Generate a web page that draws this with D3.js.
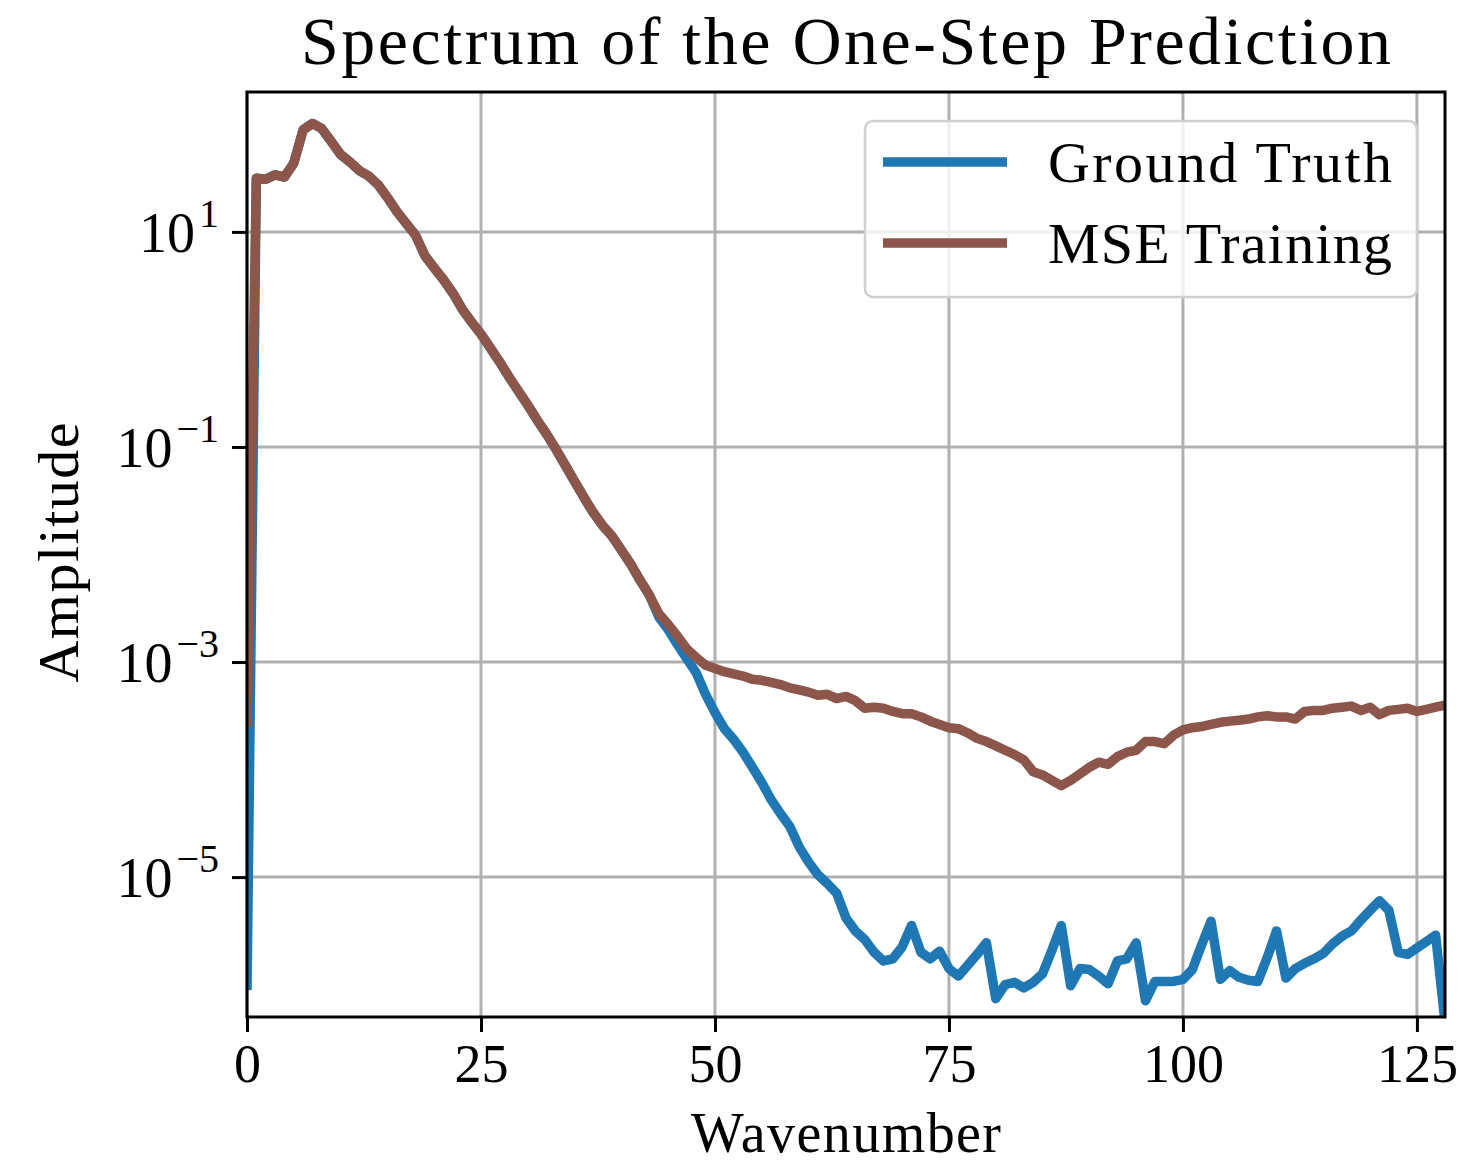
<!DOCTYPE html>
<html>
<head>
<meta charset="utf-8">
<script src="https://cdn.jsdelivr.net/npm/d3@7"></script>
<style>
  body { margin: 0; background: #fff; }
  text { font-family: "Liberation Serif", "DejaVu Serif", serif; fill: #000; }
</style>
</head>
<body>
<div id="chart"></div>
<script>
// wavenumber 0..128 (rfft of 256 samples)
var wavenumbers = d3.range(0, 129);

var groundTruth = [
  8.9e-7, 31.6, 30.9, 33.9, 32.4, 43.7, 89.1, 102, 91.2, 69.2,
  52.5, 44.7, 37.2, 33.1, 27.5, 20.9, 15.5, 12.0, 9.33, 6.03,
  4.62, 3.59, 2.69, 1.91, 1.45, 1.12, 0.832, 0.617, 0.447, 0.331,
  0.245, 0.178, 0.132, 0.0955, 0.0676, 0.0479, 0.0339, 0.0245, 0.0186, 0.0148,
  0.0110, 8.13e-3, 5.75e-3, 4.17e-3, 2.63e-3, 2.0e-3, 1.45e-3, 1.07e-3, 7.94e-4, 5.01e-4,
  3.39e-4, 2.40e-4, 1.91e-4, 1.45e-4, 1.05e-4, 7.59e-5, 5.25e-5, 3.89e-5, 2.95e-5, 1.91e-5,
  1.38e-5, 1.05e-5, 8.71e-6, 7.08e-6, 4.17e-6, 3.16e-6, 2.63e-6, 2.0e-6, 1.66e-6, 1.74e-6,
  2.24e-6, 3.55e-6, 2.0e-6, 1.74e-6, 2.04e-6, 1.41e-6, 1.20e-6, 1.51e-6, 1.91e-6, 2.45e-6,
  7.41e-7, 1.0e-6, 1.05e-6, 9.33e-7, 1.05e-6, 1.26e-6, 2.09e-6, 3.55e-6, 9.77e-7, 1.41e-6,
  1.38e-6, 1.20e-6, 1.02e-6, 1.66e-6, 1.74e-6, 2.45e-6, 7.08e-7, 1.07e-6, 1.07e-6, 1.07e-6,
  1.12e-6, 1.38e-6, 2.34e-6, 3.89e-6, 1.12e-6, 1.35e-6, 1.17e-6, 1.10e-6, 1.07e-6, 1.78e-6,
  3.16e-6, 1.15e-6, 1.41e-6, 1.58e-6, 1.74e-6, 1.95e-6, 2.40e-6, 2.82e-6, 3.16e-6, 3.98e-6,
  4.90e-6, 6.03e-6, 4.90e-6, 2.0e-6, 1.91e-6, 2.19e-6, 2.51e-6, 2.88e-6, 4.47e-7
];

var mseTraining = [
  2.5e-4, 31.6, 30.9, 33.9, 32.4, 43.7, 89.1, 102, 91.2, 69.2,
  52.5, 44.7, 37.2, 33.1, 27.5, 20.9, 15.5, 12.0, 9.33, 6.03,
  4.62, 3.59, 2.69, 1.91, 1.45, 1.12, 0.832, 0.617, 0.447, 0.331,
  0.245, 0.178, 0.132, 0.0955, 0.0676, 0.0479, 0.0339, 0.0245, 0.0186, 0.0148,
  0.0110, 8.13e-3, 5.75e-3, 4.17e-3, 2.82e-3, 2.24e-3, 1.74e-3, 1.32e-3, 1.10e-3, 9.33e-4,
  8.71e-4, 8.13e-4, 7.76e-4, 7.41e-4, 6.92e-4, 6.76e-4, 6.46e-4, 6.17e-4, 5.75e-4, 5.50e-4,
  5.25e-4, 4.90e-4, 5.01e-4, 4.57e-4, 4.79e-4, 4.37e-4, 3.72e-4, 3.80e-4, 3.72e-4, 3.47e-4,
  3.31e-4, 3.31e-4, 3.09e-4, 2.82e-4, 2.63e-4, 2.45e-4, 2.40e-4, 2.19e-4, 1.95e-4, 1.82e-4,
  1.66e-4, 1.51e-4, 1.38e-4, 1.23e-4, 9.55e-5, 8.91e-5, 7.94e-5, 7.08e-5, 7.94e-5, 9.12e-5,
  1.05e-4, 1.17e-4, 1.12e-4, 1.32e-4, 1.45e-4, 1.51e-4, 1.82e-4, 1.82e-4, 1.74e-4, 2.09e-4,
  2.34e-4, 2.45e-4, 2.51e-4, 2.63e-4, 2.75e-4, 2.82e-4, 2.88e-4, 2.95e-4, 3.09e-4, 3.16e-4,
  3.09e-4, 3.09e-4, 2.95e-4, 3.47e-4, 3.55e-4, 3.55e-4, 3.72e-4, 3.80e-4, 3.89e-4, 3.55e-4,
  3.80e-4, 3.24e-4, 3.55e-4, 3.63e-4, 3.72e-4, 3.47e-4, 3.63e-4, 3.80e-4, 3.98e-4
];

var xTicks = [0, 25, 50, 75, 100, 125];
var yTickExps = [1, -1, -3, -5];
var seriesNames = ["Ground Truth", "MSE Training"];
var seriesColors = ["#1f77b4", "#8c564b"];

var margin = { top: 92, right: 20, bottom: 152, left: 247 },
    width = 1465 - margin.left - margin.right,
    height = 1169 - margin.top - margin.bottom;

var svg = d3.select("#chart").append("svg")
    .attr("width", 1465)
    .attr("height", 1169);

var g = svg.append("g")
    .attr("transform", "translate(" + margin.left + "," + margin.top + ")");

var x = d3.scaleLinear().domain([0, 128]).range([0, width]);
var y = d3.scaleLog().domain([5e-7, 200]).range([height, 0]);

g.append("clipPath").attr("id", "clip")
  .append("rect").attr("width", width).attr("height", height);

// grid
g.selectAll(".vgrid").data(xTicks).enter().append("line")
    .attr("x1", function (d) { return x(d); })
    .attr("x2", function (d) { return x(d); })
    .attr("y1", 0).attr("y2", height)
    .attr("stroke", "#b0b0b0").attr("stroke-width", 3);

g.selectAll(".hgrid").data(yTickExps).enter().append("line")
    .attr("x1", 0).attr("x2", width)
    .attr("y1", function (d) { return y(Math.pow(10, d)); })
    .attr("y2", function (d) { return y(Math.pow(10, d)); })
    .attr("stroke", "#b0b0b0").attr("stroke-width", 3);

// lines
var line = d3.line()
    .x(function (d) { return x(d[0]); })
    .y(function (d) { return y(d[1]); });

[groundTruth, mseTraining].forEach(function (vals, i) {
  g.append("path")
    .datum(wavenumbers.map(function (k, j) { return [k, vals[j]]; }))
    .attr("clip-path", "url(#clip)")
    .attr("fill", "none")
    .attr("stroke", seriesColors[i])
    .attr("stroke-width", 9.5)
    .attr("stroke-linejoin", "round")
    .attr("d", line);
});

// frame
g.append("rect")
    .attr("width", width).attr("height", height)
    .attr("fill", "none").attr("stroke", "#000").attr("stroke-width", 3);

// x axis
var xAxis = g.append("g")
    .attr("transform", "translate(0," + height + ")")
    .call(d3.axisBottom(x).tickValues(xTicks).tickSize(15).tickPadding(12));
xAxis.select(".domain").remove();
xAxis.selectAll("line").attr("stroke", "#000").attr("stroke-width", 3);
xAxis.selectAll("text")
    .style("font-family", "Liberation Serif, serif")
    .style("font-size", "54px").attr("fill", "#000");

// y axis with 10^n labels
var yAxis = g.append("g")
    .call(d3.axisLeft(y).tickValues(yTickExps.map(function (e) { return Math.pow(10, e); }))
      .tickSize(15).tickFormat(""));
yAxis.select(".domain").remove();
yAxis.selectAll("line").attr("stroke", "#000").attr("stroke-width", 3);

var ylab = g.selectAll(".ylab").data(yTickExps).enter().append("text")
    .attr("x", -28)
    .attr("y", function (d) { return y(Math.pow(10, d)) + 20; })
    .attr("text-anchor", "end")
    .style("font-size", "56px");
ylab.append("tspan").text("10");
ylab.append("tspan")
    .attr("dx", 4)
    .attr("dy", -25)
    .style("font-size", "40px")
    .text(function (d) { return d < 0 ? "\u2212" + (-d) : d; });

// labels
svg.append("text")
    .attr("x", margin.left + width / 2).attr("y", 1152)
    .attr("text-anchor", "middle")
    .attr("textLength", 310)
    .style("font-size", "56px")
    .text("Wavenumber");

svg.append("text")
    .attr("transform", "translate(78," + (margin.top + height / 2 - 2) + ") rotate(-90)")
    .attr("text-anchor", "middle")
    .attr("textLength", 260)
    .style("font-size", "58px")
    .text("Amplitude");

svg.append("text")
    .attr("x", margin.left + width / 2).attr("y", 64)
    .attr("text-anchor", "middle")
    .attr("textLength", 1090)
    .style("font-size", "68px")
    .text("Spectrum of the One-Step Prediction");

// legend
var leg = g.append("g").attr("transform", "translate(" + (865 - margin.left) + "," + (121 - margin.top) + ")");
leg.append("rect")
    .attr("width", 552).attr("height", 176).attr("rx", 8)
    .attr("fill", "#fff").attr("fill-opacity", 0.8)
    .attr("stroke", "#d0d0d0").attr("stroke-width", 2.5);
seriesNames.forEach(function (name, i) {
  leg.append("line")
    .attr("x1", 18).attr("x2", 142)
    .attr("y1", 41 + i * 81).attr("y2", 41 + i * 81)
    .attr("stroke", seriesColors[i]).attr("stroke-width", 9.5);
  leg.append("text")
    .attr("x", 183).attr("y", 41 + i * 81 + 20)
    .attr("textLength", 344)
    .style("font-size", "58px")
    .text(name);
});
</script>
</body>
</html>
